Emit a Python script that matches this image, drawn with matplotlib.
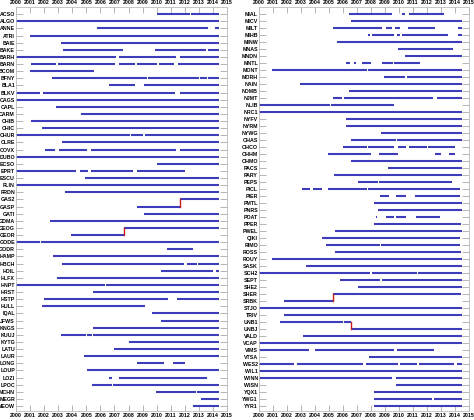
import numpy as np
from matplotlib import pyplot as plt
from matplotlib import font_manager

END = 2014.45
END2 = 2014.5

# left panel stations and their data spans (start year, end year)
left_names = ['ACSO', 'ALGO', 'ANNE', 'ATRI', 'BAIE', 'BAKE', 'BARH', 'BARN', 'BCOM', 'BFNY',
              'BLA1', 'BLKV', 'CAGS', 'CAPL', 'CARM', 'CHIB', 'CHIC', 'CHUR', 'CLRE', 'COVX',
              'DUBO', 'ECSO', 'EPRT', 'ESCU', 'FLIN', 'FRDN', 'GAS2', 'GASP', 'GATI', 'GDMA',
              'GEOG', 'GEOR', 'GODE', 'GODR', 'HAMP', 'HBCH', 'HDIL', 'HLFX', 'HNPT', 'HRST',
              'HSTP', 'HULL', 'IQAL', 'JFWS', 'KNGS', 'KUUJ', 'KYTG', 'LATU', 'LAUR', 'LONG',
              'LOUP', 'LOZI', 'LPOC', 'MCHN', 'MEGR', 'MEOW']
left_spans = [
    [(2010.0, 2012.4), (2012.45, END)],
    [(2000.0, END)],
    [(2005.73, 2013.67), (2014.15, END)],
    [(2001.0, END)],
    [(2003.2, END)],
    [(2003.36, 2007.58), (2009.9, 2013.5), (2013.67, END)],
    [(2000.0, 2007.1), (2007.3, 2011.4), (2011.66, END)],
    [(2001.1, 2002.84), (2003.0, 2007.04), (2007.35, 2008.46), (2008.62, 2010.05),
     (2010.2, 2011.2), (2011.5, END)],
    [(2001.0, 2005.55)],
    [(2002.54, 2009.3), (2009.35, 2013.0), (2013.05, 2013.6), (2013.67, END)],
    [(2006.63, 2008.48), (2009.1, END)],
    [(2000.0, 2001.7), (2001.9, 2011.3), (2011.66, END)],
    [(2000.0, END)],
    [(2002.84, END)],
    [(2004.64, END)],
    [(2001.04, END)],
    [(2001.85, END)],
    [(2000.0, 2008.1), (2008.15, 2009.05), (2009.15, END)],
    [(2003.27, END)],
    [(2002.09, 2002.77), (2003.03, 2005.02), (2005.3, 2011.37), (2011.66, END)],
    [(2000.0, END)],
    [(2010.0, END)],
    [(2000.0, 2004.3), (2004.55, 2005.14), (2005.3, 2008.34), (2008.58, 2012.0)],
    [(2004.93, END)],
    [(2000.0, END)],
    [(2003.5, END)],
    [(2011.66, END)],
    [(2008.62, 2011.66)],
    [(2009.1, END)],
    [(2002.42, 2005.8), (2005.85, END)],
    [(2007.68, END)],
    [(2003.89, 2007.68)],
    [(2000.0, 2001.7), (2001.75, END)],
    [(2010.71, 2012.56)],
    [(2002.65, END)],
    [(2003.27, 2011.94), (2012.13, 2012.84), (2012.95, END)],
    [(2010.0, 2010.05), (2010.33, 2014.03), (2014.2, END)],
    [(2002.94, END)],
    [(2000.0, 2006.35), (2006.4, END)],
    [(2005.45, END)],
    [(2001.99, 2010.83), (2011.42, END)],
    [(2001.82, 2009.17)],
    [(2009.7, END)],
    [(2010.33, END)],
    [(2005.45, END)],
    [(2003.18, 2004.95), (2005.05, 2005.4), (2005.5, END)],
    [(2008.06, END)],
    [(2006.97, END)],
    [(2004.83, END)],
    [(2008.62, 2010.52), (2011.18, 2012.04)],
    [(2005.07, END)],
    [(2006.63, 2006.82), (2007.3, 2013.6)],
    [(2005.4, 2006.8), (2006.9, END)],
    [(2009.95, 2012.8), (2012.85, END)],
    [(2013.13, END)],
    [(2012.56, END)],
]
# (old station, new station, year of change)
left_links = [('GASP', 'GAS2', 2011.66), ('GEOR', 'GEOG', 2007.68)]

right_names = ['MIAL', 'MICV', 'MILT', 'MIHB', 'MINW', 'MNAS', 'MNDN', 'MNTL', 'MONT', 'MORH',
               'NAIN', 'NDMB', 'NJMT', 'NLIB', 'NRC1', 'NYFV', 'NYRM', 'NYWG', 'OHAS', 'OHCO',
               'OHHM', 'OHMO', 'PACS', 'PARY', 'PEPS', 'PICL', 'PIER', 'PMTL', 'PNRS', 'POAT',
               'PPER', 'PWEL', 'QIKI', 'RIMO', 'ROSS', 'ROUY', 'SASK', 'SCH2', 'SEPT', 'SHE2',
               'SHER', 'SRBK', 'STJO', 'TRIV', 'UNB1', 'UNBJ', 'VALD', 'VCAP', 'VIMS', 'VTSA',
               'WES2', 'WIL1', 'WINN', 'WISN', 'YQX1', 'YWG1', 'YYR1']
right_spans = [
    [(2006.43, 2009.48), (2010.21, 2010.45), (2010.69, 2013.24)],
    [(2006.57, END2)],
    [(2005.29, 2008.81), (2009.1, 2009.52), (2009.71, 2010.05), (2010.62, 2012.6), (2014.19, END2)],
    [(2007.81, 2007.9), (2008.05, 2009.62), (2009.86, 2010.05), (2010.19, 2013.48), (2014.19, END2)],
    [(2005.57, END2)],
    [(2009.95, 2013.86)],
    [(2010.43, END2)],
    [(2006.24, 2006.48), (2006.76, 2006.9), (2007.33, 2008.0), (2008.76, 2009.57), (2009.62, 2011.52)],
    [(2000.95, 2007.71), (2007.81, END2)],
    [(2008.95, 2010.45), (2010.57, END2)],
    [(2002.95, END2)],
    [(2006.43, END2)],
    [(2005.29, 2005.95), (2006.1, 2012.43), (2012.71, END2)],
    [(2000.0, 2005.1), (2005.15, 2006.7), (2006.75, 2009.67)],
    [(2000.0, END2)],
    [(2006.24, END2)],
    [(2006.24, END2)],
    [(2008.71, END2)],
    [(2006.57, 2009.76), (2009.86, END2)],
    [(2006.0, 2007.71), (2007.81, 2009.62), (2009.9, 2010.48), (2010.71, 2012.0), (2012.1, 2014.0)],
    [(2004.9, 2008.0), (2008.57, 2009.95), (2012.57, 2013.0), (2013.57, 2014.0)],
    [(2005.83, 2005.88), (2006.57, END2)],
    [(2009.19, END2)],
    [(2005.38, END2)],
    [(2007.05, 2008.5), (2008.55, 2013.81)],
    [(2003.1, 2003.62), (2003.86, 2004.52), (2004.9, 2007.71), (2007.81, 2014.33)],
    [(2008.62, 2009.29), (2009.81, 2010.52), (2011.14, 2014.33)],
    [(2008.19, 2010.55), (2010.6, END2)],
    [(2008.48, END2)],
    [(2008.33, 2008.45), (2009.05, 2009.67), (2009.76, 2010.48), (2011.19, 2012.95)],
    [(2008.24, 2012.9), (2012.95, 2014.43)],
    [(2005.43, END2)],
    [(2004.48, 2014.33)],
    [(2004.76, 2008.65), (2008.7, 2014.33)],
    [(2005.43, 2014.43)],
    [(2000.95, END2)],
    [(2003.33, END2)],
    [(2000.0, 2007.95), (2008.05, 2011.3), (2011.35, END2)],
    [(2005.76, 2008.62), (2008.76, END2)],
    [(2007.05, END2)],
    [(2005.29, 2014.43)],
    [(2001.81, 2005.29)],
    [(2000.0, 2009.55), (2009.6, END2)],
    [(2001.81, END2)],
    [(2001.48, 2006.0), (2006.1, 2006.57)],
    [(2006.57, END2)],
    [(2003.14, END2)],
    [(2000.0, END2)],
    [(2000.0, 2003.57), (2004.0, 2009.67), (2009.86, 2012.48)],
    [(2007.86, END2)],
    [(2000.0, 2002.52), (2002.71, 2007.43), (2007.62, 2009.9), (2010.05, 2011.29),
     (2011.43, 2013.9), (2014.14, END2)],
    [(2000.0, END2)],
    [(2000.0, 2009.52), (2009.76, END2)],
    [(2009.76, END2)],
    [(2008.24, END2)],
    [(2008.24, 2012.33), (2012.52, END2)],
    [(2008.24, END2)],
]
right_links = [('SRBK', 'SHER', 2005.29), ('UNB1', 'UNBJ', 2006.57)]

years = np.arange(2000, 2016)

blue = '#3d3dba'
red = '#c41e1e'
grey = '#999999'

# narrow face for the crowded station labels, if it is there
try:
    font_manager.findfont('Liberation Sans Narrow', fallback_to_default=False)
    label_family = ['Liberation Sans Narrow', 'DejaVu Sans']
    label_size = 4.6
except ValueError:
    label_family = ['Liberation Sans', 'DejaVu Sans']
    label_size = 3.8

plt.rcParams['font.family'] = ['Liberation Sans', 'DejaVu Sans']

fig = plt.figure(figsize=(4.74, 4.2), dpi=100)
ax1 = fig.add_axes([16 / 474, 9 / 420, 211 / 474, 404 / 420])
ax2 = fig.add_axes([259 / 474, 9 / 420, 210 / 474, 404 / 420])


def draw_panel(ax, names, spans, links):
    row = {n: i + 1 for i, n in enumerate(names)}
    for n, segs in zip(names, spans):
        for s, e in segs:
            ax.plot([s, e], [row[n], row[n]], color=blue, lw=1.5, solid_capstyle='butt')
    for old, new, t in links:
        ax.plot([t, t], [row[old], row[new]], color=red, lw=1.0)
    ax.set_xlim(2000, 2015)
    ax.set_ylim(len(names) + 0.7, 0)
    ax.set_yticks(np.arange(1, len(names) + 1))
    ax.set_yticklabels(names, fontsize=label_size, fontweight='bold', family=label_family)
    ax.set_xticks(years)
    ax.set_xticklabels([str(y) for y in years], fontsize=3.8, fontweight='bold')
    ax.tick_params(axis='y', direction='in', length=5, width=0.5, color=grey,
                   left=True, right=True, pad=0.8)
    ax.tick_params(axis='x', direction='in', length=4, width=0.5, color=grey,
                   top=True, bottom=True, labeltop=True, pad=1.5)
    for sp in ax.spines.values():
        sp.set_color('#bbbbbb')
        sp.set_linewidth(0.6)


draw_panel(ax1, left_names, left_spans, left_links)
draw_panel(ax2, right_names, right_spans, right_links)

plt.savefig('out.png', dpi=100)
